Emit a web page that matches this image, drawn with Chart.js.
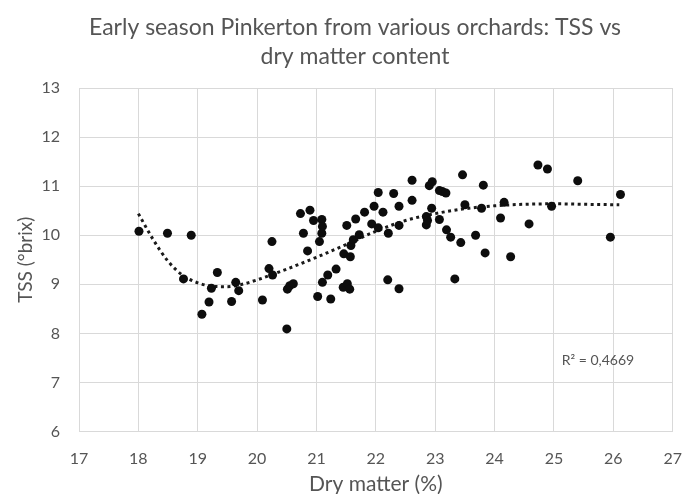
<!DOCTYPE html>
<html>
<head>
<meta charset="utf-8">
<script src="https://cdn.jsdelivr.net/npm/chart.js@4"></script>
<style>
  html, body { margin: 0; padding: 0; background: #fff; }
  #wrap { width: 685px; height: 494px; }
</style>
</head>
<body>
<div id="wrap"><canvas id="tssChart" width="685" height="494"></canvas></div>
<script>
// Dry matter (%) and TSS (°brix) for each fruit sample
var dryMatter = [18.01, 18.49, 18.89, 18.76, 19.33, 19.23, 19.19, 19.07, 19.64, 19.69,
    19.57, 20.09, 20.25, 20.20, 20.26, 20.50, 20.51, 20.55, 20.61, 20.73,
    20.89, 20.78, 20.85, 20.95, 21.09, 21.10, 21.09, 21.05, 21.02, 21.24,
    21.10, 21.19, 21.33, 21.45, 21.52, 21.56, 21.46, 21.57, 21.58, 21.62,
    21.51, 21.66, 21.72, 21.81, 21.93, 21.97, 22.04, 22.04, 22.12, 22.21,
    22.20, 22.30, 22.39, 22.39, 22.39, 22.61, 22.61, 22.85, 22.85, 22.87,
    22.94, 22.90, 22.95, 23.07, 23.12, 23.18, 23.07, 23.19, 23.26, 23.33,
    23.43, 23.46, 23.50, 23.68, 23.78, 23.81, 23.84, 24.16, 24.10, 24.27,
    24.58, 24.73, 24.89, 24.96, 25.40, 25.95, 26.12];
var tss = [10.08, 10.04, 10.00, 9.11, 9.24, 8.92, 8.64, 8.39, 9.04, 8.87,
    8.65, 8.68, 9.87, 9.32, 9.19, 8.09, 8.90, 8.97, 9.01, 10.44,
    10.51, 10.04, 9.68, 10.30, 10.32, 10.18, 10.04, 9.87, 8.75, 8.70,
    9.04, 9.19, 9.31, 8.94, 9.01, 8.90, 9.62, 9.56, 9.79, 9.91,
    10.20, 10.33, 10.01, 10.47, 10.23, 10.59, 10.15, 10.87, 10.47, 10.04,
    9.09, 10.85, 10.59, 10.20, 8.91, 11.12, 10.71, 10.38, 10.21, 10.30,
    10.55, 11.01, 11.09, 10.91, 10.89, 10.86, 10.32, 10.11, 9.96, 9.11,
    9.85, 11.23, 10.62, 10.00, 10.55, 11.02, 9.64, 10.67, 10.35, 9.56,
    10.23, 11.43, 11.35, 10.59, 11.11, 9.96, 10.83];

// Polynomial trendline
var trendX = [18, 18.25, 18.5, 18.75, 19, 19.25, 19.5, 19.75, 20, 20.5,
    21, 21.5, 22, 22.5, 23, 23.5, 24, 24.5, 25, 25.5, 26.1];
var trendY = [10.44, 9.91, 9.47, 9.18, 9.03, 8.96, 8.95, 9.0, 9.09, 9.31,
    9.55, 9.81, 10.08, 10.30, 10.44, 10.54, 10.60, 10.63, 10.64, 10.63, 10.62];

var titleLines = ['Early season Pinkerton from various orchards: TSS vs', 'dry matter content'];
var r2Label = 'R\u00b2 = 0,4669';
var r2At = { x: 25.74, y: 7.45 };

var textGrey = '#555555';
var gridGrey = '#d9d9d9';

var points = dryMatter.map(function(x, i) { return { x: x, y: tss[i] }; });
var trend = trendX.map(function(x, i) { return { x: x, y: trendY[i] }; });

// title drawn by hand so it sits where the original put it
var titlePlugin = {
    id: 'titleLines',
    afterDraw: function(chart) {
        var ctx = chart.ctx;
        ctx.save();
        ctx.fillStyle = textGrey;
        ctx.font = '23px Lato';
        ctx.textAlign = 'center';
        ctx.textBaseline = 'alphabetic';
        ctx.fillText(titleLines[0], 355, 35);
        ctx.fillText(titleLines[1], 355, 63.5);
        // R² text placed through the scales
        var sx = chart.scales.x, sy = chart.scales.y;
        ctx.font = '14px Lato';
        ctx.textBaseline = 'middle';
        ctx.fillText(r2Label, sx.getPixelForValue(r2At.x), sy.getPixelForValue(r2At.y));
        ctx.restore();
    }
};

var ctx = document.getElementById('tssChart').getContext('2d');
var chart = new Chart(ctx, {
    type: 'scatter',
    data: {
        datasets: [{
            label: 'TSS',
            data: points,
            backgroundColor: '#0d0d0d',
            borderColor: '#0d0d0d',
            pointRadius: 4.5,
            pointBorderWidth: 0
        }, {
            label: 'Trend',
            data: trend,
            showLine: true,
            pointRadius: 0,
            borderColor: '#1a1a1a',
            borderWidth: 3,
            borderDash: [3, 3.5],
            cubicInterpolationMode: 'monotone',
            fill: false
        }]
    },
    options: {
        responsive: false,
        animation: false,
        layout: { padding: { top: 88, right: 12, bottom: 0, left: 0 } },
        plugins: {
            legend: { display: false },
            tooltip: { enabled: false }
        },
        scales: {
            x: {
                type: 'linear',
                min: 17,
                max: 27,
                ticks: { stepSize: 1, padding: 3, color: textGrey, font: { family: 'Lato', size: 16 } },
                // invisible tick marks push the labels down without widening the side padding
                grid: { color: gridGrey, drawTicks: true, tickLength: 15, tickColor: 'rgba(0,0,0,0)' },
                border: { color: gridGrey },
                title: {
                    display: true,
                    text: 'Dry matter (%)',
                    color: textGrey,
                    font: { family: 'Lato', size: 21, lineHeight: 1 },
                    padding: { top: 0, bottom: -1 }
                },
                afterFit: function(scale) { scale.height = 62.5; }
            },
            y: {
                min: 6,
                max: 13,
                ticks: { stepSize: 1, padding: 19, color: textGrey, font: { family: 'Lato', size: 16 } },
                grid: { color: gridGrey, drawTicks: false },
                border: { color: gridGrey },
                title: {
                    display: true,
                    text: 'TSS (\u00b0brix)',
                    color: textGrey,
                    font: { family: 'Lato', size: 19 },
                    padding: { top: 14, bottom: 0 }
                },
                afterFit: function(scale) { scale.width = 79; }
            }
        }
    },
    plugins: [titlePlugin]
});
</script>
</body>
</html>
